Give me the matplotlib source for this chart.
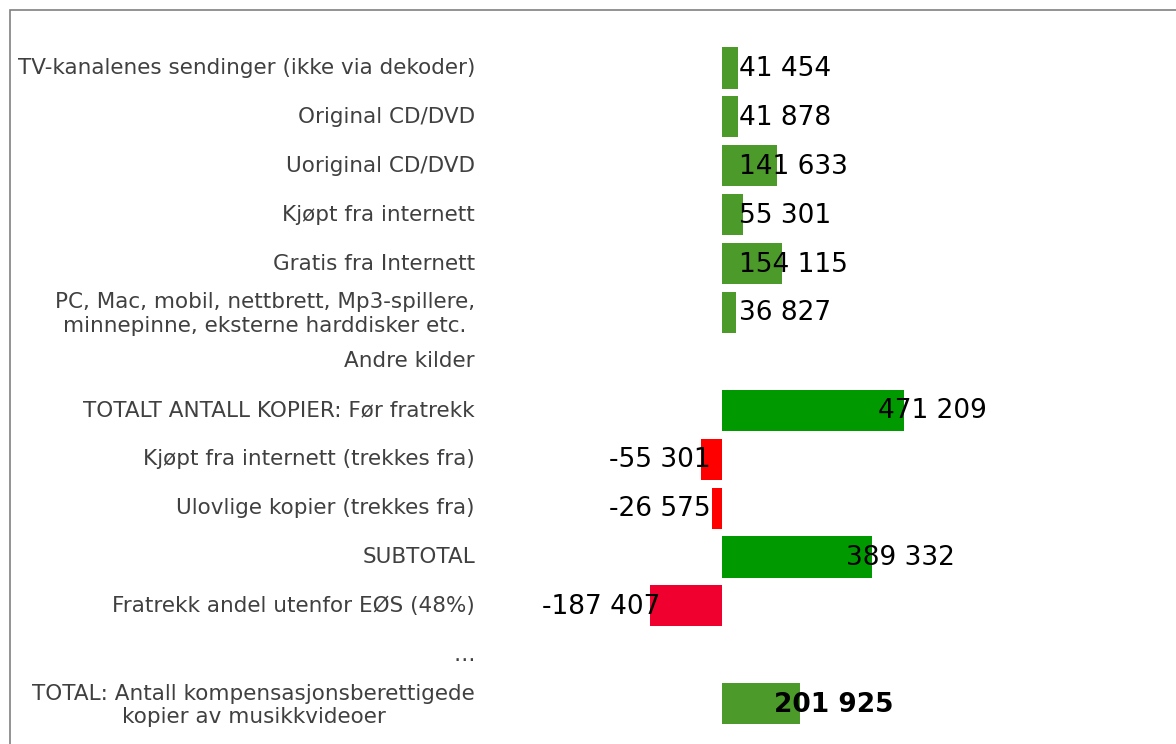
import matplotlib.pyplot as plt
from matplotlib.patches import Rectangle
from matplotlib.transforms import ScaledTranslation
import numpy as np

categories = [
    "TV-kanalenes sendinger (ikke via dekoder)",
    "Original CD/DVD",
    "Uoriginal CD/DVD",
    "Kjøpt fra internett",
    "Gratis fra Internett",
    "PC, Mac, mobil, nettbrett, Mp3-spillere,\nminnepinne, eksterne harddisker etc.",
    "Andre kilder",
    "TOTALT ANTALL KOPIER: Før fratrekk",
    "Kjøpt fra internett (trekkes fra)",
    "Ulovlige kopier (trekkes fra)",
    "SUBTOTAL",
    "Fratrekk andel utenfor EØS (48%)",
    "…",
    "TOTAL: Antall kompensasjonsberettigede\nkopier av musikkvideoer",
]
values = [41454, 41878, 141633, 55301, 154115, 36827, None,
          471209, -55301, -26575, 389332, -187407, None, 201925]
value_labels = ["41 454", "41 878", "141 633", "55 301", "154 115", "36 827", "",
                "471 209", "-55 301", "-26 575", "389 332", "-187 407", "", "201 925"]
bar_colors = ["#4C9A2A"] * 7 + ["#009A00", "#FF0000", "#FF0000", "#009A00",
                                  "#F0002E", "#4C9A2A", "#4C9A2A"]

plt.rcParams["font.family"] = ["DejaVu Sans"]

W, H = 1176, 744
fig = plt.figure(figsize=(W / 100, H / 100), dpi=100)

# pixel layout
x0_px, x1_px, zero_px = 500, 1176, 722
unit = 471209 / 182.0  # data units per pixel
top_px, step_px = 68, 48.9
n = len(categories)
ax_top = top_px - step_px / 2
ax_bot = top_px + step_px * (n - 1) + step_px / 2
ax = fig.add_axes([x0_px / W, 1 - ax_bot / H, (x1_px - x0_px) / W, (ax_bot - ax_top) / H])
ax.set_xlim((x0_px - zero_px) * unit, (x1_px - zero_px) * unit)
ax.set_ylim(n - 0.5, -0.5)

y = np.arange(n)
vals = np.array([0 if v is None else v for v in values], dtype=float)
ax.barh(y, vals, height=0.84, color=bar_colors)

for i, (v, lab) in enumerate(zip(values, value_labels)):
    if v is None:
        continue
    weight = "bold" if i == n - 1 else "normal"
    if v >= 0:
        xt = 17 * unit if v < 65 * unit else v - 26 * unit
        ax.text(xt, i + 0.02, lab, ha="left", va="center", fontsize=19,
                color="black", fontweight=weight)
    else:
        xt = min(v + 11 * unit, -11 * unit)
        ax.text(xt, i + 0.02, lab, ha="right", va="center", fontsize=19,
                color="black", fontweight=weight)

ax.set_yticks(y)
ax.set_yticklabels(categories, fontsize=15.5, color="#404040", multialignment="center")
ax.tick_params(axis="y", length=0, pad=(x0_px - 475) * 0.72)
shift = ScaledTranslation(0, 2 / 100, fig.dpi_scale_trans)
for t in ax.get_yticklabels():
    t.set_transform(t.get_transform() + shift)
ax.set_xticks([])
for s in ax.spines.values():
    s.set_visible(False)

# outer frame (cut off at right and bottom)
fig.patches.append(Rectangle((10 / W, -0.1), 1.2, 1 - 10 / H + 0.1,
                             transform=fig.transFigure, fill=False,
                             edgecolor="#808080", linewidth=1.2))

fig.savefig("out.png", dpi=100)
